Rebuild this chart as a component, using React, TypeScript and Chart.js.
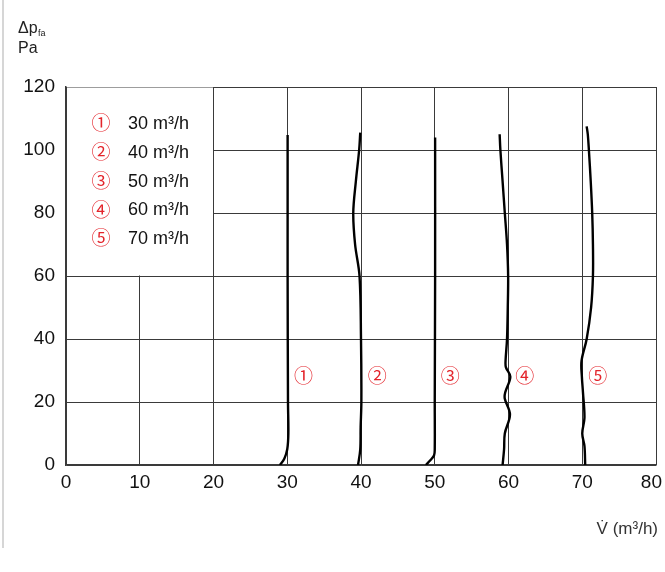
import React, { useEffect, useRef } from "react";
import { Chart, registerables } from "chart.js";

Chart.register(...registerables);

const xTicks = [0, 10, 20, 30, 40, 50, 60, 70, 80];
const yTicks = [0, 20, 40, 60, 80, 100, 120];

const flowLabels = ["30 m³/h", "40 m³/h", "50 m³/h", "60 m³/h", "70 m³/h"];
const circled = ["①", "②", "③", "④", "⑤"];
// curve label positions (x, y in data units)
const markerX = [32.2, 42.2, 52.1, 62.2, 72.1];
const markerY = [28.3, 28.3, 28.3, 28.3, 28.3];

// each curve: x = flow (m3/h), y = pressure (Pa)
const curve30x = [30.05, 30.05, 30.05, 30.1, 30.15, 30.0, 29.6, 29.0];
const curve30y = [104.8, 80, 60, 20, 10, 5, 2, 0];

const curve40x = [39.9, 39.75, 39.3, 38.95, 39.2, 39.8, 40.0, 40.05, 39.95, 39.9, 39.6];
const curve40y = [105.5, 100, 90, 80, 70, 60, 40, 20, 12, 5, 0];

const curve50x = [50.05, 50.05, 50.0, 50.0, 49.9, 49.4, 48.8];
const curve50y = [104, 60, 20, 5, 3, 1.5, 0];

const curve60x = [58.8, 58.9, 59.2, 59.5, 59.8, 59.95, 59.9, 59.8, 59.6, 59.65, 60.25, 59.55, 59.5, 60.2, 59.5, 59.4, 59.2];
const curve60y = [105, 100, 90, 80, 70, 60, 50, 40, 33, 31, 28, 23, 21, 16, 10, 5, 0];

const curve70x = [70.6, 70.75, 70.9, 71.15, 71.35, 71.45, 71.45, 71.2, 70.6, 69.9, 69.95, 70.1, 70.3, 70.0, 70.3, 70.4];
const curve70y = [107.5, 105, 100, 90, 80, 70, 60, 50, 40, 33, 28, 23, 15, 10, 6, 0];

const curvesX = [curve30x, curve40x, curve50x, curve60x, curve70x];
const curvesY = [curve30y, curve40y, curve50y, curve60y, curve70y];

const RED = "#e3242b";
const FONT = "'Liberation Sans', Arial, sans-serif";
const CIRCLE_FONT = "'Noto Sans CJK JP', 'DejaVu Sans', sans-serif";

const decorPlugin = {
  id: "decor",
  beforeDatasetsDraw(chart: any) {
    const { ctx, scales } = chart;
    const x = scales.x;
    const y = scales.y;
    // legend box: blank out grid inside x 0..20, y 60..120
    const l = x.getPixelForValue(0) + 1;
    const r = x.getPixelForValue(20) - 0.5;
    const t = y.getPixelForValue(120) + 0.5;
    const b = y.getPixelForValue(60) - 0.5;
    ctx.save();
    ctx.fillStyle = "#ffffff";
    ctx.fillRect(l, t, r - l, b - t);
    ctx.restore();
  },
  afterDatasetsDraw(chart: any) {
    const { ctx, scales, chartArea } = chart;
    const x = scales.x;
    const y = scales.y;
    ctx.save();
    // x tick labels (last one kept inside the canvas)
    ctx.fillStyle = "#111";
    ctx.font = `19px ${FONT}`;
    ctx.textAlign = "center";
    ctx.textBaseline = "middle";
    for (const v of xTicks) {
      const label = String(v);
      const w = ctx.measureText(label).width;
      let px = x.getPixelForValue(v);
      if (px + w / 2 > 662) px = 662 - w / 2;
      ctx.fillText(label, px, chartArea.bottom + 18);
    }
    // curve markers
    ctx.fillStyle = RED;
    ctx.font = `19px ${CIRCLE_FONT}`;
    for (let i = 0; i < circled.length; i++) {
      ctx.fillText(circled[i], x.getPixelForValue(markerX[i]), y.getPixelForValue(markerY[i]));
    }
    // legend
    const left = chartArea.left;
    const top = chartArea.top;
    for (let i = 0; i < flowLabels.length; i++) {
      const cy = top + 36 + i * 28.8;
      ctx.fillStyle = RED;
      ctx.font = `19px ${CIRCLE_FONT}`;
      ctx.textAlign = "center";
      ctx.fillText(circled[i], left + 35, cy);
      ctx.fillStyle = "#111";
      ctx.font = `18px ${FONT}`;
      ctx.textAlign = "left";
      ctx.fillText(flowLabels[i], left + 62, cy + 1);
    }
    // y axis title
    ctx.fillStyle = "#222";
    ctx.textAlign = "left";
    ctx.textBaseline = "alphabetic";
    ctx.font = `16px ${FONT}`;
    ctx.fillText("Δp", 18, 33);
    ctx.font = `9px ${FONT}`;
    ctx.fillText("fa", 38, 36);
    ctx.font = `16px ${FONT}`;
    ctx.fillText("Pa", 18, 53);
    // x axis title
    ctx.fillStyle = "#333";
    ctx.textAlign = "right";
    ctx.font = `17px ${FONT}`;
    ctx.fillText("V̇ (m³/h)", 658, 534);
    ctx.restore();
  },
};

export default function App() {
  const ref = useRef<HTMLCanvasElement | null>(null);
  useEffect(() => {
    if (!ref.current) return;
    const datasets = curvesX.map((xs, i) => ({
      label: flowLabels[i],
      data: xs.map((v, j) => ({ x: v, y: curvesY[i][j] })),
      showLine: true,
      borderColor: "#000",
      borderWidth: 2.4,
      pointRadius: 0,
      tension: 0.35,
      fill: false,
    }));
    const chart = new Chart(ref.current, {
      type: "scatter",
      data: { datasets },
      options: {
        animation: false,
        responsive: false,
        maintainAspectRatio: false,
        layout: { padding: { left: 0, top: 87, right: 9, bottom: 76 } },
        plugins: { legend: { display: false }, tooltip: { enabled: false } },
        scales: {
          x: {
            type: "linear",
            min: 0,
            max: 80,
            afterBuildTicks: (s: any) => {
              s.ticks = xTicks.map((v) => ({ value: v }));
            },
            afterFit: (s: any) => {
              s.height = 31;
              s.paddingLeft = 0;
              s.paddingRight = 0;
            },
            grid: { color: "#3a3a3a", lineWidth: 1, drawTicks: false },
            border: { color: "#3a3a3a", width: 1.5 },
            ticks: { display: false },
          },
          y: {
            type: "linear",
            min: 0,
            max: 120,
            afterBuildTicks: (s: any) => {
              s.ticks = yTicks.map((v) => ({ value: v }));
            },
            afterFit: (s: any) => {
              s.width = 66;
              s.paddingTop = 0;
              s.paddingBottom = 0;
            },
            grid: { color: "#3a3a3a", lineWidth: 1, drawTicks: false },
            border: { color: "#3a3a3a", width: 1.5 },
            ticks: { color: "#111", font: { size: 19, family: FONT }, padding: 11 },
          },
        },
      },
      plugins: [decorPlugin],
    });
    return () => chart.destroy();
  }, []);
  return (
    <div style={{ position: "fixed", left: 0, top: 0, width: 665, height: 572, background: "#fff" }}>
      <div style={{ position: "absolute", left: 2, top: 0, width: 2, height: 548, background: "#d6d6d6" }} />
      <canvas ref={ref} width={665} height={572} style={{ position: "absolute", left: 0, top: 0, width: 665, height: 572 }} />
    </div>
  );
}
